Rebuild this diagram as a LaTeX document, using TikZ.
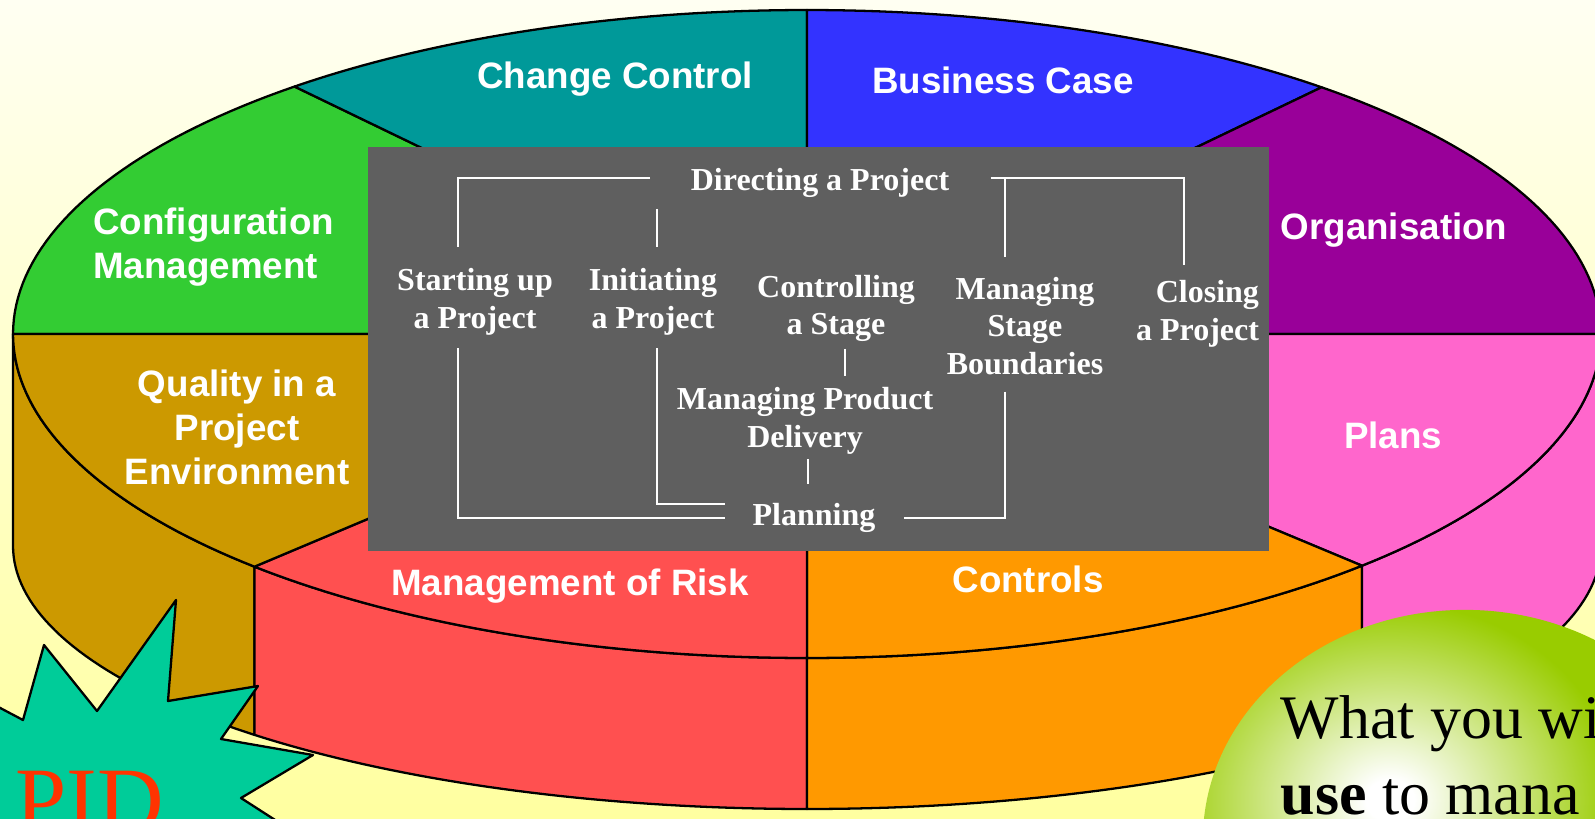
\documentclass[tikz,border=0pt]{standalone}
\usepackage{fontspec}
\setmainfont{Liberation Serif}
\setsansfont{Liberation Sans}
\usepackage{xcolor}
\usepackage{tikz}
\usetikzlibrary{calc}

\definecolor{ccteal}{HTML}{009999}
\definecolor{bcblue}{HTML}{3333FF}
\definecolor{orgpurple}{HTML}{990099}
\definecolor{planpink}{HTML}{FF66CC}
\definecolor{ctrlorange}{HTML}{FF9900}
\definecolor{riskred}{HTML}{FF5050}
\definecolor{qualbrown}{HTML}{CC9900}
\definecolor{cfggreen}{HTML}{33CC33}
\definecolor{boxgray}{HTML}{5F5F5F}
\definecolor{pidred}{HTML}{FF3300}
\definecolor{stargreen}{HTML}{00CC99}
\definecolor{bubblegreen}{HTML}{99CC00}
\definecolor{bgtop}{HTML}{FFFFF2}
\definecolor{bgbottom}{HTML}{FFFFA0}

\pgfdeclareradialshading{bubble}{\pgfpoint{0bp}{0bp}}{%
  color(0bp)=(white); color(2bp)=(white); color(19bp)=(bubblegreen); color(50bp)=(bubblegreen)}

% rim of the top face and lower edge of the wall
\newcommand{\rimx}{807+794*cos(\x)}
\newcommand{\topy}{334+324*sin(\x)}
\newcommand{\lowy}{546+263*sin(\x)}

\begin{document}
\begin{tikzpicture}[x=0.01cm, y=-0.01cm, samples=40,
    rim/.style={draw=black, line width=0.65pt, line join=round},
    seclabel/.style={font=\fontsize{10.45}{12.5}\selectfont\sffamily\bfseries, text=white, inner sep=0pt, align=center},
    proc/.style={font=\fontsize{9.1}{10.7}\selectfont\bfseries, text=white, inner sep=0pt, align=center},
    link/.style={draw=white, line width=0.6pt}]
  \useasboundingbox (0,0) rectangle (1595,818);
  \clip (0,0) rectangle (1595,818);
  \fill[top color=bgtop, bottom color=bgbottom] (0,0) rectangle (1595,818);

  % side walls
  \filldraw[rim, fill=qualbrown] plot[domain=134.1:180] ({\rimx},{\topy}) -- plot[domain=180:134.1] ({\rimx},{\lowy}) -- cycle;
  \filldraw[rim, fill=riskred] plot[domain=90:134.1] ({\rimx},{\topy}) -- plot[domain=134.1:90] ({\rimx},{\lowy}) -- cycle;
  \filldraw[rim, fill=ctrlorange] plot[domain=45.65:90] ({\rimx},{\topy}) -- plot[domain=90:45.65] ({\rimx},{\lowy}) -- cycle;
  \filldraw[rim, fill=planpink] plot[domain=0:45.65] ({\rimx},{\topy}) -- plot[domain=45.65:0] ({\rimx},{\lowy}) -- cycle;

  % top face
  \coordinate (hub) at (807,334);
  \filldraw[rim, fill=cfggreen] (hub) -- plot[domain=180:229.8] ({\rimx},{\topy}) -- cycle;
  \filldraw[rim, fill=ccteal] (hub) -- plot[domain=229.8:270] ({\rimx},{\topy}) -- cycle;
  \filldraw[rim, fill=bcblue] (hub) -- plot[domain=270:310.4] ({\rimx},{\topy}) -- cycle;
  \filldraw[rim, fill=orgpurple] (hub) -- plot[domain=310.4:360] ({\rimx},{\topy}) -- cycle;
  \filldraw[rim, fill=planpink] (hub) -- plot[domain=0:45.65] ({\rimx},{\topy}) -- cycle;
  \filldraw[rim, fill=ctrlorange] (hub) -- plot[domain=45.65:90] ({\rimx},{\topy}) -- cycle;
  \filldraw[rim, fill=riskred] (hub) -- plot[domain=90:134.1] ({\rimx},{\topy}) -- cycle;
  \filldraw[rim, fill=qualbrown] (hub) -- plot[domain=134.1:180] ({\rimx},{\topy}) -- cycle;

  \node[seclabel] (changectrl) at (615,79.5) {Change Control};
  \node[seclabel] (bizcase) at (1003,80) {Business Case};
  \node[seclabel, align=left, anchor=west] (config) at (92.5,247.5) {Configuration\\Management};
  \node[seclabel] (organisation) at (1394,230.5) {Organisation};
  \node[seclabel] (quality) at (237,427.6) {Quality in a\\Project\\Environment};
  \node[seclabel] (plans) at (1393,435.6) {Plans};
  \node[seclabel] (risk) at (570,586.5) {Management of Risk};
  \node[seclabel] (controls) at (1028,579.6) {Controls};

  % process model
  \fill[boxgray] (368,147) rectangle (1269,551);
  \node[proc] (directing) at (820,182.5) {Directing a Project};
  \node[proc] (startup) at (475,302) {Starting up\\a Project};
  \node[proc] (initiating) at (653,302) {Initiating\\a Project};
  \node[proc] (controlling) at (836,308.5) {Controlling\\a Stage};
  \node[proc] (msb) at (1025,326) {Managing\\Stage\\Boundaries};
  \node[proc, align=right] (closing) at (1197.5,313.5) {Closing\\a Project};
  \node[proc] (mpd) at (805,421) {Managing Product\\Delivery};
  \node[proc] (planning) at (814,517.5) {Planning};

  \draw[link] ($(directing.west)+(-40,-4.5)$) -| ($(startup.north)+(-17,-21)$);
  \draw[link] ($(initiating.north |- directing.south)+(4,11)$) -- ($(initiating.north)+(4,-21)$);
  \draw[link] ($(directing.east)+(41,-4.5)$) -| ($(msb.north)+(-20,-19)$);
  \draw[link] ($(directing.east)+(41,-4.5)$) -| ($(closing.north)+(-13.5,-14)$);
  \draw[link] ($(startup.south)+(-17,12)$) |- ($(planning.west)+(-27,0.5)$);
  \draw[link] ($(initiating.south)+(4,12)$) |- ($(planning.west)+(-27,-13.5)$);
  \draw[link] ($(msb.south)+(-20,16)$) |- ($(planning.east)+(28,0.5)$);
  \draw[link] ($(controlling.south)+(9,6)$) -- ($(controlling.south |- mpd.north)+(9,-11)$);
  \draw[link] ($(mpd.south)+(3,4)$) -- ($(mpd.south |- planning.north)+(3,-18)$);

  % PID flash
  \filldraw[rim, fill=stargreen] (-30,692) -- (23,720) -- (44,645) -- (97,711) -- (176,600) -- (168,701) -- (258,686) -- (221,739) -- (313,755) -- (241,798) -- (300,836) -- (150,900) -- (-40,900) -- cycle;
  \node[font=\fontsize{26.2}{30}\selectfont, text=pidred, anchor=base west, inner sep=0pt] (pid) at (15,831) {PID};

  % bubble
  \begin{scope}
    \clip (1465,840) ellipse [x radius=2.62cm, y radius=2.3cm];
    \shade[shading=bubble] (1090,540) rectangle (1690,1060);
  \end{scope}
  \node[font=\fontsize{17.6}{21.6}\selectfont, align=left, anchor=west, inner sep=0pt] (bubbletext) at (1280,755) {What you wi\\\textbf{use} to mana};
\end{tikzpicture}
\end{document}
